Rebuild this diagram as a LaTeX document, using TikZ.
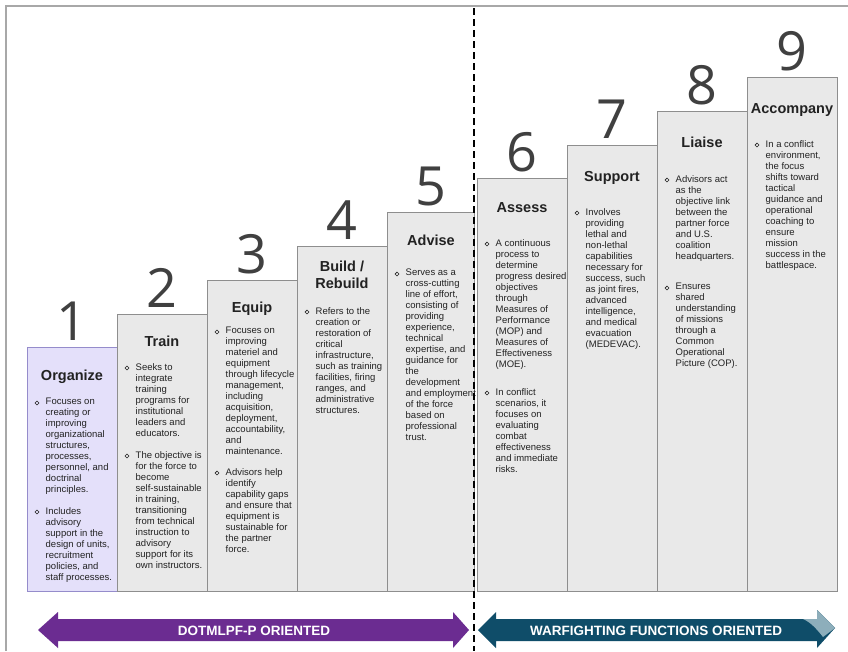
\documentclass[tikz,border=0pt]{standalone}
\usepackage{fontspec}
\setmainfont{Liberation Sans}
\newfontfamily\numfont{Open Sans}
\definecolor{boxgray}{HTML}{E9E9E9}
\definecolor{boxedge}{HTML}{8E8E8E}
\definecolor{orgfill}{HTML}{E4E0FA}
\definecolor{orgedge}{HTML}{958CCB}
\definecolor{framegray}{HTML}{A8A8A8}
\definecolor{numgray}{HTML}{404040}
\definecolor{textdark}{HTML}{222222}
\definecolor{arrowpurple}{HTML}{6B2C91}
\definecolor{arrowteal}{HTML}{0F4D69}
\definecolor{arrowlight}{HTML}{8DAEBB}
\tikzset{
  colbox/.style={draw=boxedge, fill=boxgray, line width=1pt, anchor=north west, inner sep=0, minimum width=90pt},
  orgbox/.style={colbox, draw=orgedge, fill=orgfill},
  numlabel/.style={font=\numfont\fontsize{54}{54}\selectfont, text=numgray, anchor=base, inner sep=0},
  coltitle/.style={font=\bfseries\fontsize{14.5}{17}\selectfont, text=textdark, anchor=base, inner sep=0, align=center},
  bodytext/.style={font=\fontsize{9.5}{11}\selectfont, text=textdark, anchor=north west, inner sep=0, align=left, execute at begin node={\rule{0pt}{8pt}}},
  bulletdot/.style={circle, draw=textdark, line width=0.55pt, minimum size=3.8pt, inner sep=0},
  arrowtext/.style={font=\bfseries\fontsize{13.5}{14}\selectfont, text=white, inner sep=0},
  divider/.style={draw=black, line width=1.3pt, dash pattern=on 7pt off 4pt}
}
\begin{document}
\begin{tikzpicture}[x=1pt,y=-1pt]
\useasboundingbox (0,0) rectangle (848,651);
\fill[white] (0,0) rectangle (848,651);
\draw[framegray, line width=2pt] (6,651) -- (6,6) -- (848,6);

% boxes
\node[orgbox, minimum height=244pt] (c1) at (27,347) {};
\node[colbox, minimum height=277pt] (c2) at (117,314) {};
\node[colbox, minimum height=311pt] (c3) at (207,280) {};
\node[colbox, minimum height=345pt] (c4) at (297,246) {};
\node[colbox, minimum height=379pt, minimum width=87pt] (c5) at (387,212) {};
\node[colbox, minimum height=413pt] (c6) at (477,178) {};
\node[colbox, minimum height=446pt] (c7) at (567,145) {};
\node[colbox, minimum height=480pt] (c8) at (657,111) {};
\node[colbox, minimum height=514pt] (c9) at (747,77) {};

% numbers
\node[numlabel] (n1) at (72,340) {1};
\node[numlabel] (n2) at (162,307) {2};
\node[numlabel] (n3) at (252,273) {3};
\node[numlabel] (n4) at (342,239) {4};
\node[numlabel] (n5) at (431,205) {5};
\node[numlabel] (n6) at (522,171) {6};
\node[numlabel] (n7) at (612,138) {7};
\node[numlabel] (n8) at (702,104) {8};
\node[numlabel] (n9) at (792,70) {9};

% titles
\node[coltitle] (t1) at (72,380) {Organize};
\node[coltitle] (t2) at (162,346) {Train};
\node[coltitle] (t3) at (252,312) {Equip};
\node[coltitle] (t4) at (342,288) {Build /\\Rebuild};
\node[coltitle] (t5) at (431,245) {Advise};
\node[coltitle] (t6) at (522,212) {Assess};
\node[coltitle] (t7) at (612,181) {Support};
\node[coltitle] (t8) at (702,147) {Liaise};
\node[coltitle] (t9) at (792,113) {Accompany};

% column 1
\node[bulletdot] (b1a) at (37,403) {};
\node[bodytext] (x1a) at (45.5,398) {Focuses on\\creating or\\improving\\organizational\\structures,\\processes,\\personnel, and\\doctrinal\\principles.};
\node[bulletdot] (b1b) at (37,512) {};
\node[bodytext] (x1b) at (45.5,507) {Includes\\advisory\\support in the\\design of units,\\recruitment\\policies, and\\staff processes.};

% column 2
\node[bulletdot] (b2a) at (127,368) {};
\node[bodytext] (x2a) at (135.5,363) {Seeks to\\integrate\\training\\programs for\\institutional\\leaders and\\educators.};
\node[bulletdot] (b2b) at (127,456) {};
\node[bodytext] (x2b) at (135.5,451) {The objective is\\for the force to\\become\\self-sustainable\\in training,\\transitioning\\from technical\\instruction to\\advisory\\support for its\\own instructors.};

% column 3
\node[bulletdot] (b3a) at (217,332) {};
\node[bodytext] (x3a) at (225.5,327) {Focuses on\\improving\\materiel and\\equipment\\through lifecycle\\management,\\including\\acquisition,\\deployment,\\accountability,\\and\\maintenance.};
\node[bulletdot] (b3b) at (217,473) {};
\node[bodytext] (x3b) at (225.5,468) {Advisors help\\identify\\capability gaps\\and ensure that\\equipment is\\sustainable for\\the partner\\force.};

% column 4
\node[bulletdot] (b4a) at (307,312) {};
\node[bodytext] (x4a) at (315.5,307) {Refers to the\\creation or\\restoration of\\critical\\infrastructure,\\such as training\\facilities, firing\\ranges, and\\administrative\\structures.};

% column 5
\node[bulletdot] (b5a) at (397,274) {};
\node[bodytext] (x5a) at (405.5,269) {Serves as a\\cross-cutting\\line of effort,\\consisting of\\providing\\experience,\\technical\\expertise, and\\guidance for\\the\\development\\and employment\\of the force\\based on\\professional\\trust.};

% column 6
\node[bulletdot] (b6a) at (487,244) {};
\node[bodytext] (x6a) at (495.5,239) {A continuous\\process to\\determine\\progress desired\\objectives\\through\\Measures of\\Performance\\(MOP) and\\Measures of\\Effectiveness\\(MOE).};
\node[bulletdot] (b6b) at (487,393) {};
\node[bodytext] (x6b) at (495.5,388) {In conflict\\scenarios, it\\focuses on\\evaluating\\combat\\effectiveness\\and immediate\\risks.};

% column 7
\node[bulletdot] (b7a) at (577,213) {};
\node[bodytext] (x7a) at (585.5,208) {Involves\\providing\\lethal and\\non-lethal\\capabilities\\necessary for\\success, such\\as joint fires,\\advanced\\intelligence,\\and medical\\evacuation\\(MEDEVAC).};

% column 8
\node[bulletdot] (b8a) at (667,180) {};
\node[bodytext] (x8a) at (675.5,175) {Advisors act\\as the\\objective link\\between the\\partner force\\and U.S.\\coalition\\headquarters.};
\node[bulletdot] (b8b) at (667,288) {};
\node[bodytext] (x8b) at (675.5,283) {Ensures\\shared\\understanding\\of missions\\through a\\Common\\Operational\\Picture (COP).};

% column 9
\node[bulletdot] (b9a) at (757,145) {};
\node[bodytext] (x9a) at (765.5,140) {In a conflict\\environment,\\the focus\\shifts toward\\tactical\\guidance and\\operational\\coaching to\\ensure\\mission\\success in the\\battlespace.};

% divider
\coordinate (dtop) at (474,8);
\coordinate (dbot) at (474,651);
\draw[divider] (dtop) -- (dbot);

% arrows
\fill[arrowpurple] (38,630) -- (58,612) -- (58,619) -- (453,619) -- (453,612) -- (469,630) -- (453,648) -- (453,641) -- (58,641) -- (58,648) -- cycle;
\node[arrowtext] (a1) at (254,631) {DOTMLPF-P ORIENTED};
\fill[arrowteal] (478,630) -- (496,612) -- (496,619) -- (817,619) -- (817,610) -- (835,628) -- (817,648) -- (817,641) -- (496,641) -- (496,648) -- cycle;
\fill[arrowlight] (803,619) -- (817,619) -- (817,610) -- (835,628) -- (823,637) .. controls (816,628) and (810,622) .. (803,619) -- cycle;
\node[arrowtext] (a2) at (656,631) {WARFIGHTING FUNCTIONS ORIENTED};
\end{tikzpicture}
\end{document}
